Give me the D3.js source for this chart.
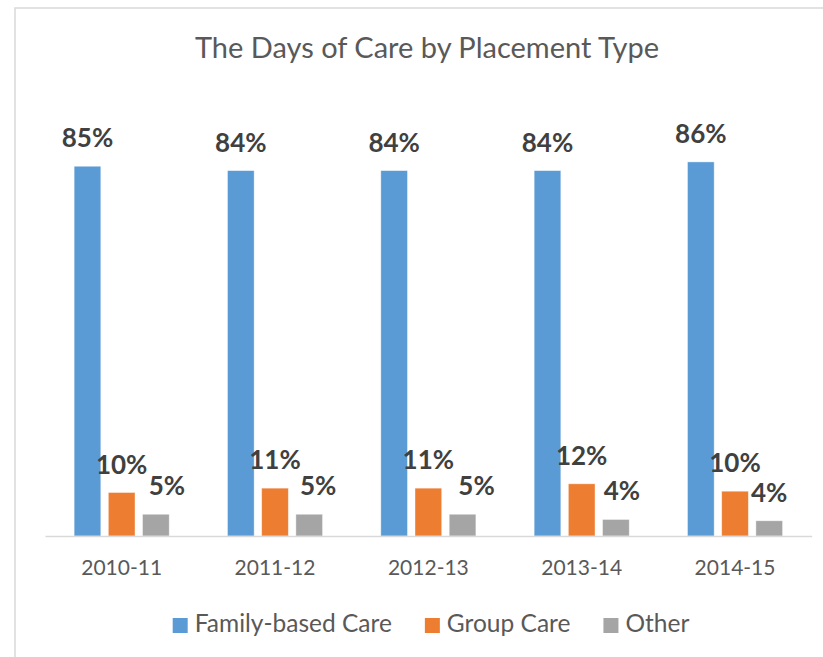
<!DOCTYPE html>
<html>
<head>
<meta charset="utf-8">
<script src="https://cdn.jsdelivr.net/npm/d3@7"></script>
<style>
  body { margin: 0; background: #fff; }
  svg { display: block; font-family: Lato, "Open Sans", sans-serif; }
</style>
</head>
<body>
<svg id="chart" width="823" height="657"></svg>
<script>
// chart data
var years = ["2010-11", "2011-12", "2012-13", "2013-14", "2014-15"];
var seriesNames = ["Family-based Care", "Group Care", "Other"];
var familyCare = [85, 84, 84, 84, 86];
var groupCare = [10, 11, 11, 12, 10.3];
var otherCare = [5, 5, 5, 3.8, 3.5];
var colors = ["#5B9BD5", "#ED7D31", "#A5A5A5"];

var allSeries = [familyCare, groupCare, otherCare];
// small sideways nudges of the data labels, like the hand placed ones in the original
var labelNudge = [[0, 0, 0, 0, 0], [0, 0, 0, 0, 0], [11, 9, 14, 6, 0]];

var svg = d3.select("#chart");

// outer chart frame
svg.append("rect")
  .attr("x", 15).attr("y", 8)
  .attr("width", 840).attr("height", 700)
  .attr("fill", "#fff")
  .attr("stroke", "#D9D9D9")
  .attr("stroke-width", 1.5);

svg.append("text")
  .attr("x", 427).attr("y", 58)
  .attr("text-anchor", "middle")
  .attr("fill", "#595959")
  .style("font-size", "29px")
  .text("The Days of Care by Placement Type");

var x0 = d3.scaleBand().domain(years).range([45, 811.7]).paddingInner(0.38).paddingOuter(0.19);
var x1 = d3.scaleBand().domain(d3.range(3)).range([0, x0.bandwidth()]).paddingInner(0.22);
var y = d3.scaleLinear().domain([0, 100]).range([536, 101]);
var fmt = function(v) { return Math.round(v) + "%"; };

var groups = svg.selectAll("g.year")
  .data(years)
  .enter().append("g")
  .attr("class", "year")
  .attr("transform", function(d) { return "translate(" + x0(d) + ",0)"; });

groups.selectAll("rect")
  .data(function(d, i) { return allSeries.map(function(s, k) { return {k: k, v: s[i]}; }); })
  .enter().append("rect")
  .attr("x", function(d) { return x1(d.k); })
  .attr("y", function(d) { return y(d.v); })
  .attr("width", x1.bandwidth())
  .attr("height", function(d) { return y(0) - y(d.v); })
  .attr("fill", function(d) { return colors[d.k]; })
  .attr("stroke", "#fff")
  .attr("stroke-opacity", 0.5)
  .attr("stroke-width", 0.8);

groups.selectAll("text.lbl")
  .data(function(d, i) { return allSeries.map(function(s, k) { return {k: k, v: s[i], i: i}; }); })
  .enter().append("text")
  .attr("class", "lbl")
  .attr("x", function(d) { return x1(d.k) + x1.bandwidth() / 2 + labelNudge[d.k][d.i]; })
  .attr("y", function(d) { return y(d.v) - 19; })
  .attr("text-anchor", "middle")
  .attr("fill", "#404040")
  .style("font-size", "26px")
  .style("font-weight", "bold")
  .text(function(d) { return fmt(d.v); });

var axis = svg.append("g")
  .attr("transform", "translate(0," + y(0) + ")")
  .call(d3.axisBottom(x0).tickSize(0).tickSizeOuter(0).tickPadding(24));
axis.select(".domain").attr("stroke", "#D9D9D9").attr("stroke-width", 1.5);
axis.selectAll("text")
  .attr("fill", "#595959")
  .style("font-size", "21px")
  .style("font-family", "Lato, 'Open Sans', sans-serif");

// legend
var legend = svg.append("g").attr("class", "legend");
var lx = 0;
seriesNames.forEach(function(name, k) {
  var g = legend.append("g").attr("transform", "translate(" + lx + ",0)");
  g.append("rect").attr("x", 0).attr("y", -14).attr("width", 15).attr("height", 15).attr("fill", colors[k]);
  var t = g.append("text").attr("x", 22).attr("y", 0)
    .attr("fill", "#595959").style("font-size", "24.5px").text(name);
  lx += 22 + t.node().getComputedTextLength() + 33;
});
var legendWidth = lx - 33;
legend.attr("transform", "translate(" + (431 - legendWidth / 2) + ",632)");
</script>
</body>
</html>
